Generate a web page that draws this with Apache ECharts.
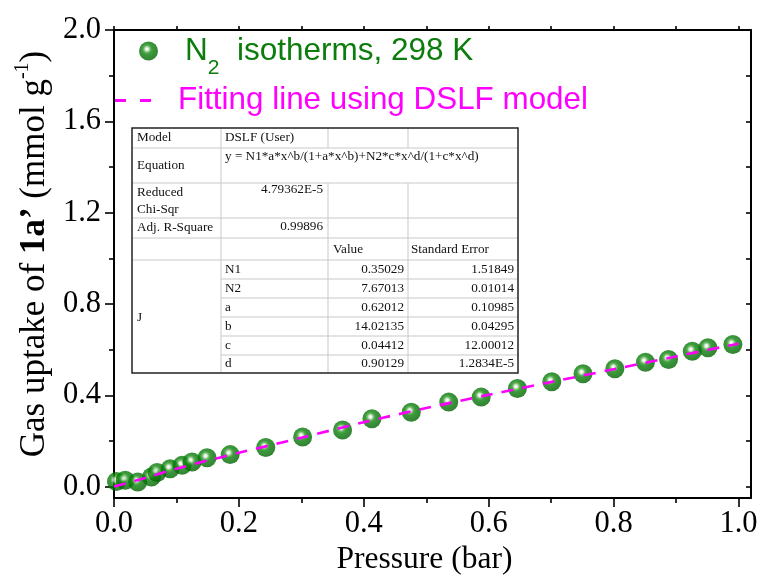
<!DOCTYPE html>
<html>
<head>
<meta charset="utf-8">
<script src="https://cdn.jsdelivr.net/npm/echarts@6/dist/echarts.min.js"></script>
<style>
  html, body { margin: 0; padding: 0; background: #fff; }
  #chart { width: 765px; height: 581px; }
</style>
</head>
<body>
<div id="chart"></div>
<script>
// N2 adsorption isotherm at 298 K (measured points)
const pressure = [0.004, 0.018, 0.038, 0.060, 0.069, 0.090, 0.109, 0.125, 0.149, 0.186,
                  0.243, 0.302, 0.366, 0.413, 0.476, 0.536, 0.588, 0.646, 0.701, 0.751,
                  0.802, 0.851, 0.888, 0.926, 0.951, 0.991];
const uptake = [0.022, 0.028, 0.020, 0.042, 0.062, 0.078, 0.093, 0.108, 0.126, 0.140,
                0.171, 0.217, 0.248, 0.297, 0.326, 0.370, 0.392, 0.430, 0.459, 0.494,
                0.516, 0.545, 0.557, 0.593, 0.608, 0.622];

// DSLF fitted curve
const fitPressure = [0, 0.05, 0.1, 0.15, 0.2, 0.3, 0.4, 0.5, 0.6, 0.7, 0.8, 0.9, 1.0];
const fitUptake = [0, 0.038, 0.078, 0.114, 0.148, 0.214, 0.282, 0.344, 0.402, 0.458, 0.514, 0.570, 0.626];

// Axis ticks
const xMajor = [0, 0.2, 0.4, 0.6, 0.8, 1.0];
const xMinor = [0.1, 0.3, 0.5, 0.7, 0.9];
const xTop = [0, 0.1, 0.2, 0.3, 0.4, 0.5, 0.6, 0.7, 0.8, 0.9, 1.0];
const yMajor = [0, 0.4, 0.8, 1.2, 1.6, 2.0];
const yMinor = [0.2, 0.6, 1.0, 1.4, 1.8];
const yRight = [0, 0.2, 0.4, 0.6, 0.8, 1.0, 1.2, 1.4, 1.6, 1.8, 2.0];

// Fit report table
const fitModel = 'DSLF (User)';
const fitEquation = 'y = N1*a*x^b/(1+a*x^b)+N2*c*x^d/(1+c*x^d)';
const fitChiSqr = '4.79362E-5';
const fitAdjR2 = '0.99896';
const paramNames = ['N1', 'N2', 'a', 'b', 'c', 'd'];
const paramValues = ['0.35029', '7.67013', '0.62012', '14.02135', '0.04412', '0.90129'];
const paramErrors = ['1.51849', '0.01014', '0.10985', '0.04295', '12.00012', '1.2834E-5'];

const serif = 'Liberation Serif';
const sans = 'Liberation Sans';

// glossy green ball
const sphere = {
  type: 'radial', x: 0.42, y: 0.4, r: 0.6,
  colorStops: [
    { offset: 0, color: '#ffffff' },
    { offset: 0.12, color: '#e4f5df' },
    { offset: 0.3, color: '#45a23c' },
    { offset: 0.45, color: '#0b820b' },
    { offset: 1, color: '#006400' }
  ]
};

const fmt = v => v.toFixed(1);
const tickLine = { color: '#000', width: 1.6 };

// ---- fit report table drawn with graphic elements ----
const T = { x0: 132, x1: 221, x2: 328, x3: 408, x4: 518, y0: 128, y1: 373 };
const rowY = [148, 183, 218, 238, 260];
const paramRowLines = [279, 298, 317, 336, 355];
const paramRowMid = [269.5, 288.5, 307.5, 326.5, 345.5, 364];
const cellFont = { fontFamily: serif, fontSize: 13.2, fill: '#111' };
const grey = { stroke: '#c9c9c9', lineWidth: 1 };

function txt(x, y, text, align) {
  return { type: 'text', x: x, y: y, z: 102,
    style: Object.assign({ text: text, align: align || 'left', verticalAlign: 'middle' }, cellFont) };
}
function ln(x1, y1, x2, y2) {
  return { type: 'line', z: 101, shape: { x1: x1, y1: y1, x2: x2, y2: y2 }, style: grey };
}

const table = [];
table.push({ type: 'rect', z: 100, shape: { x: T.x0, y: T.y0, width: T.x4 - T.x0, height: T.y1 - T.y0 },
  style: { fill: '#fff', stroke: null } });
rowY.forEach(y => table.push(ln(T.x0, y, T.x4, y)));
paramRowLines.forEach(y => table.push(ln(T.x1, y, T.x4, y)));
table.push(ln(T.x1, T.y0, T.x1, T.y1));
[T.x2, T.x3].forEach(x => {
  table.push(ln(x, T.y0, x, rowY[0]));
  table.push(ln(x, rowY[1], x, T.y1));
});
table.push({ type: 'rect', z: 103, shape: { x: T.x0, y: T.y0, width: T.x4 - T.x0, height: T.y1 - T.y0 },
  style: { fill: null, stroke: '#222', lineWidth: 1.5 } });
table.push(txt(137, 138, 'Model'));
table.push(txt(225, 138, fitModel));
table.push(txt(137, 166, 'Equation'));
table.push(txt(225, 157, fitEquation));
table.push(txt(137, 193, 'Reduced'));
table.push(txt(137, 210, 'Chi-Sqr'));
table.push(txt(323, 190, fitChiSqr, 'right'));
table.push(txt(137, 228, 'Adj. R-Square'));
table.push(txt(323, 227, fitAdjR2, 'right'));
table.push(txt(333, 250, 'Value'));
table.push(txt(411, 250, 'Standard Error'));
table.push(txt(137, 318, 'J'));
paramNames.forEach((n, i) => {
  table.push(txt(225, paramRowMid[i], n));
  table.push(txt(404, paramRowMid[i], paramValues[i], 'right'));
  table.push(txt(514, paramRowMid[i], paramErrors[i], 'right'));
});

const chart = echarts.init(document.getElementById('chart'), null, { renderer: 'canvas' });

chart.setOption({
  animation: false,
  backgroundColor: '#fff',
  grid: { left: 114, right: 14, top: 30, bottom: 83, containLabel: false },
  legend: [
    {
      data: ['N2 isotherms, 298 K'],
      left: 139, top: 35, padding: 0,
      itemWidth: 19, itemHeight: 19,
      selectedMode: false,
      formatter: () => '{n|N}{s|2}{t|  isotherms, 298 K}',
      textStyle: {
        rich: {
          n: { fontFamily: sans, fontSize: 31.5, color: '#0c7c0c', padding: [0, 0, 0, 22] },
          s: { fontFamily: sans, fontSize: 21, color: '#0c7c0c', padding: [34, 0, 0, 0] },
          t: { fontFamily: sans, fontSize: 31.5, color: '#0c7c0c' }
        }
      }
    },
    {
      data: [{ name: 'Fitting line using DSLF model', icon: 'path://M0,0H11V3H0ZM25,0H36V3H25Z' }],
      left: 115, top: 85, padding: 0,
      itemWidth: 36, itemHeight: 3,
      selectedMode: false,
      formatter: '{t|{name}}',
      textStyle: {
        rich: {
          t: { fontFamily: sans, fontSize: 31.4, color: '#ff00ff', padding: [0, 0, 0, 22] }
        }
      }
    }
  ],
  xAxis: [
    {
      type: 'value', min: 0, max: 1.02, position: 'bottom',
      axisLine: { show: true, onZero: false, lineStyle: { color: '#000', width: 2 } },
      axisTick: { show: true, inside: false, length: 9, customValues: xMajor, lineStyle: tickLine },
      axisLabel: { show: true, customValues: xMajor, formatter: fmt, fontFamily: serif, fontSize: 30.5, color: '#000', margin: 10 },
      splitLine: { show: false },
      name: 'Pressure (bar)', nameLocation: 'middle', nameGap: 46,
      nameTextStyle: { fontFamily: serif, fontSize: 31.5, color: '#000', padding: [0, 16, 0, 0] }
    },
    {
      type: 'value', min: 0, max: 1.02, position: 'bottom',
      axisLine: { show: false, onZero: false },
      axisTick: { show: true, inside: false, length: 5, customValues: xMinor, lineStyle: tickLine },
      axisLabel: { show: false }, splitLine: { show: false }
    },
    {
      type: 'value', min: 0, max: 1.02, position: 'top',
      axisLine: { show: true, onZero: false, lineStyle: { color: '#000', width: 2 } },
      axisTick: { show: true, inside: false, length: 4, customValues: xTop, lineStyle: tickLine },
      axisLabel: { show: false }, splitLine: { show: false }
    }
  ],
  yAxis: [
    {
      type: 'value', min: -0.05, max: 2.0, position: 'left',
      axisLine: { show: true, onZero: false, lineStyle: { color: '#000', width: 2 } },
      axisTick: { show: true, inside: false, length: 9, customValues: yMajor, lineStyle: tickLine },
      axisLabel: { show: true, customValues: yMajor, formatter: fmt, fontFamily: serif, fontSize: 30.5, color: '#000', margin: 13 },
      splitLine: { show: false },
      name: '{r|Gas uptake of }{b|1a’}{r| (mmol g}{sup|-1}{r|)}',
      nameLocation: 'middle', nameGap: 57,
      nameTextStyle: {
        padding: [0, 0, 0, 20],
        rich: {
          r: { fontFamily: serif, fontSize: 35, color: '#000' },
          b: { fontFamily: serif, fontSize: 35, fontWeight: 'bold', color: '#000' },
          sup: { fontFamily: serif, fontSize: 20, color: '#000', padding: [0, 0, 24, 0] }
        }
      }
    },
    {
      type: 'value', min: -0.05, max: 2.0, position: 'left',
      axisLine: { show: false, onZero: false },
      axisTick: { show: true, inside: false, length: 5, customValues: yMinor, lineStyle: tickLine },
      axisLabel: { show: false }, splitLine: { show: false }
    },
    {
      type: 'value', min: -0.05, max: 2.0, position: 'right',
      axisLine: { show: true, onZero: false, lineStyle: { color: '#000', width: 2 } },
      axisTick: { show: true, inside: true, length: 5, customValues: yRight, lineStyle: tickLine },
      axisLabel: { show: false }, splitLine: { show: false }
    }
  ],
  series: [
    {
      name: 'N2 isotherms, 298 K',
      type: 'scatter',
      xAxisIndex: 0, yAxisIndex: 0,
      symbol: 'circle', symbolSize: 19,
      itemStyle: { color: sphere },
      data: pressure.map((p, i) => [p, uptake[i]]),
      z: 2
    },
    {
      name: 'Fitting line using DSLF model',
      type: 'line',
      xAxisIndex: 0, yAxisIndex: 0,
      symbol: 'none', smooth: 0.3,
      lineStyle: { color: '#ff00ff', width: 2.6, type: [12, 9] },
      itemStyle: { color: '#ff00ff' },
      data: fitPressure.map((p, i) => [p, fitUptake[i]]),
      z: 3
    }
  ],
  graphic: table
});
</script>
</body>
</html>
